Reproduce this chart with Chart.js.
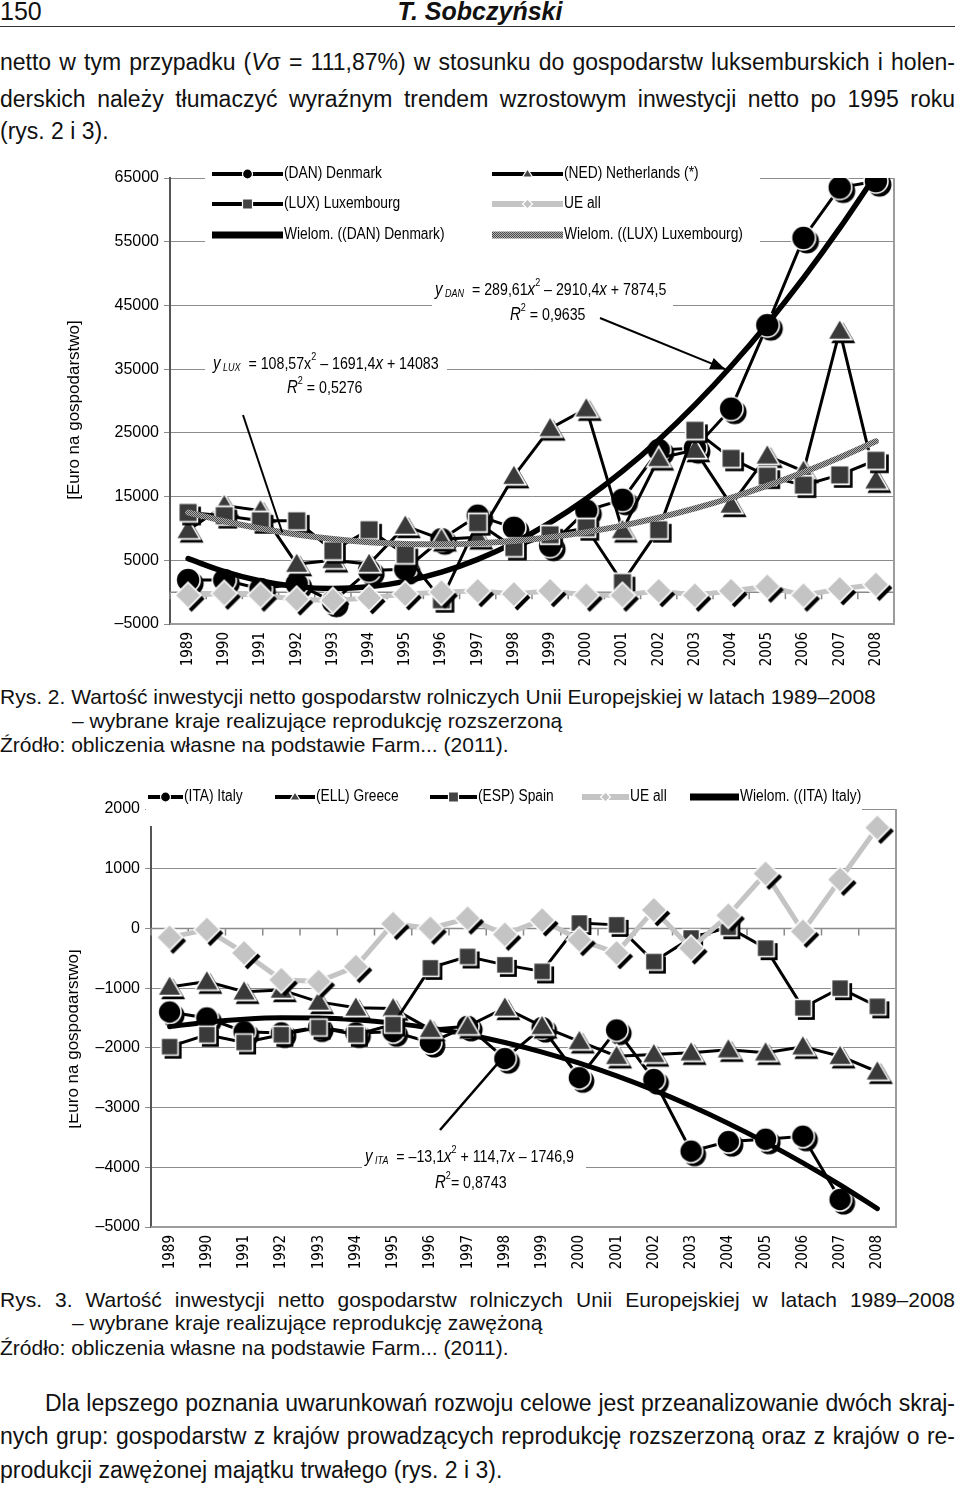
<!DOCTYPE html>
<html>
<head>
<meta charset="utf-8">
<title>Rys. 2 i Rys. 3</title>
<script src="https://cdn.jsdelivr.net/npm/chart.js"></script>
<style>
  body { margin: 0; width: 960px; height: 1485px; position: relative; overflow: hidden; background: #fff; color: #111;
         font-family: "Liberation Sans", Arial, sans-serif; }
  .t { position: absolute; left: 0; white-space: nowrap; }
  .j { width: 955px; text-align: justify; text-align-last: justify; white-space: normal; }
  .p { font-size: 23px; line-height: 30px; }
  .c { font-size: 21px; line-height: 24px; }
  .box { position: absolute; left: 0; }
</style>
</head>
<body>
<div class="t" style="top:-2px;font-size:25px;line-height:26px">150</div>
<div class="t" style="top:-2px;width:960px;text-align:center;font-size:25px;line-height:26px;font-weight:bold;font-style:italic">T. Sobczyński</div>
<div style="position:absolute;left:0;top:26px;width:955px;border-top:1.5px solid #333"></div>

<div class="t p j" style="top:47px">netto w tym przypadku (<i>V</i>σ = 111,87%) w stosunku do gospodarstw luksemburskich i holen-</div>
<div class="t p j" style="top:84px">derskich należy tłumaczyć wyraźnym trendem wzrostowym inwestycji netto po 1995 roku</div>
<div class="t p" style="top:116px">(rys. 2 i 3).</div>

<div class="box" style="top:160px"><canvas id="rys2" width="960" height="520"></canvas></div>

<div class="t c" style="top:685px">Rys. 2. Wartość inwestycji netto gospodarstw rolniczych Unii Europejskiej w latach 1989–2008</div>
<div class="t c" style="top:709px;left:72px">– wybrane kraje realizujące reprodukcję rozszerzoną</div>
<div class="t c" style="top:733px">Źródło: obliczenia własne na podstawie Farm... (2011).</div>

<div class="box" style="top:780px"><canvas id="rys3" width="960" height="500"></canvas></div>

<div class="t c j" style="top:1288px">Rys. 3. Wartość inwestycji netto gospodarstw rolniczych Unii Europejskiej w latach 1989–2008</div>
<div class="t c" style="top:1311px;left:72px">– wybrane kraje realizujące reprodukcję zawężoną</div>
<div class="t c" style="top:1336px">Źródło: obliczenia własne na podstawie Farm... (2011).</div>

<div class="t p j" style="top:1388px;left:45px;width:910px">Dla lepszego poznania uwarunkowań rozwoju celowe jest przeanalizowanie dwóch skraj-</div>
<div class="t p j" style="top:1421px">nych grup: gospodarstw z krajów prowadzących reprodukcję rozszerzoną oraz z krajów o re-</div>
<div class="t p" style="top:1455px">produkcji zawężonej majątku trwałego (rys. 2 i 3).</div>

<script>
var A = '"Liberation Sans", Arial, sans-serif';
var C = '"DejaVu Sans Condensed", "Liberation Sans", sans-serif';
var NARROW = 0.86;

var years = ['1989','1990','1991','1992','1993','1994','1995','1996','1997','1998',
             '1999','2000','2001','2002','2003','2004','2005','2006','2007','2008'];

// Rys. 2 - reprodukcja rozszerzona
var danValues = [1900, 1900, 500, 1300, -1500, 3400, 3600, 8300, 12000, 10100,
                 7300, 12800, 14500, 22300, 22600, 28800, 41900, 55600, 63500, 64500];
var nedValues = [9700, 13600, 12800, 4400, 5000, 4400, 10400, 8300, 8600, 18200,
                 25700, 28800, 9700, 21000, 22300, 13700, 21400, 19000, 41000, 17500];
var luxValues = [12500, 12000, 11200, 11200, 6500, 9800, 5900, -1200, 10900, 7000,
                 9000, 10100, 1500, 9800, 25400, 21000, 18200, 16800, 18400, 20700];
var ueAll2 = [-500, -200, -500, -1100, -1300, -900, -300, 0, 200, -300,
              200, -500, -500, 200, -500, 200, 900, -500, 500, 1200];
// y DAN = 289,61x^2 - 2910,4x + 7874,5
var danTrend = [5253.7, 3212.1, 1749.8, 866.7, 562.8, 838.1, 1692.6, 3126.3, 5139.3, 7731.5,
                10902.9, 14653.5, 18983.4, 23892.5, 29380.8, 35448.3, 42095, 49320.9, 57126.1, 65510.5];
// y LUX = 108,57x^2 - 1691,4x + 14083
var luxTrend = [12500.2, 11134.5, 9985.9, 9054.5, 8340.3, 7843.1, 7563.1, 7500.3, 7654.6, 8026,
                8614.6, 9420.3, 10443.1, 11683.1, 13140.3, 14814.5, 16705.9, 18814.5, 21139.6, 23681.2];
var yRange2 = [-5000, 65000, 10000];

// Rys. 3 - reprodukcja zawezona
var itaValues = [-1400, -1500, -1730, -1750, -1650, -1750, -1730, -1910, -1640, -2180,
                 -1660, -2500, -1700, -2530, -3730, -3570, -3530, -3480, -4540, null];
var ellValues = [-980, -890, -1060, -1030, -1230, -1330, -1340, -1690, -1640, -1330,
                 -1640, -1890, -2140, -2110, -2080, -2030, -2080, -1980, -2140, -2400];
var espValues = [-1980, -1780, -1910, -1780, -1660, -1780, -1610, -660, -470, -610,
                 -720, 90, 60, -555, -160, 20, -330, -1330, -1000, -1305];
var ueAll3 = [-150, -20, -410, -860, -890, -640, 80, 0, 170, -100,
              140, -190, -410, 310, -330, 220, 920, -50, 820, 1690];
// y ITA = -13,1x^2 + 114,7x - 1746,9
var itaTrend = [-1645.3, -1569.9, -1520.7, -1497.7, -1500.9, -1530.3, -1585.9, -1667.7, -1775.7, -1909.9,
                -2070.3, -2256.9, -2469.7, -2708.7, -2973.9, -3265.3, -3582.9, -3926.7, -4296.7, -4692.9];
var yRange3 = [-5000, 2000, 1000];

function marker(shape, fill, size) {
  var s = size + 10;
  var c = document.createElement('canvas');
  c.width = s; c.height = s;
  var g = c.getContext('2d');
  function path(o) {
    var cx = s / 2 + o, cy = s / 2 + o, r = size / 2;
    g.beginPath();
    if (shape === 'circle') g.arc(cx, cy, r, 0, Math.PI * 2);
    else if (shape === 'square') g.rect(cx - r * 0.85, cy - r * 0.85, r * 1.7, r * 1.7);
    else if (shape === 'triangle') { g.moveTo(cx, cy - r); g.lineTo(cx + r, cy + r * 0.72); g.lineTo(cx - r, cy + r * 0.72); g.closePath(); }
    else { g.moveTo(cx, cy - r); g.lineTo(cx + r, cy); g.lineTo(cx, cy + r); g.lineTo(cx - r, cy); g.closePath(); }
  }
  path(3.5); g.fillStyle = '#000'; g.fill();
  path(0); g.fillStyle = fill; g.fill();
  g.lineWidth = 1.6; g.strokeStyle = '#fff'; g.stroke();
  return c;
}

function hatch() {
  var c = document.createElement('canvas');
  c.width = 2; c.height = 2;
  var g = c.getContext('2d');
  g.fillStyle = '#b0b0b0'; g.fillRect(0, 0, 2, 2);
  g.fillStyle = '#4a4a4a'; g.fillRect(0, 0, 1, 1); g.fillRect(1, 1, 1, 1);
  return document.createElement('canvas').getContext('2d').createPattern(c, 'repeat');
}
var hatchPattern = hatch();

function series(label, data, shape, fill, size, order) {
  return { label: label, data: data, borderColor: '#000', borderWidth: 3, pointStyle: marker(shape, fill, size),
           pointRadius: size / 2, tension: 0, order: order, spanGaps: false };
}
function ueSeries(data, size, order) {
  return { label: 'UE all', data: data, borderColor: '#c4c4c4', borderWidth: 5,
           pointStyle: marker('diamond', '#c4c4c4', size), pointRadius: size / 2, order: order };
}
function trend(label, data, color, width, order) {
  return { label: label, data: data, borderColor: color, borderWidth: width, pointRadius: 0,
           cubicInterpolationMode: 'monotone', borderCapStyle: 'round', order: order };
}

// narrow text: Liberation Sans squeezed horizontally
function ntext(ctx, text, x, y, font) {
  ctx.font = font;
  ctx.save();
  ctx.translate(x, y); ctx.scale(NARROW, 1);
  ctx.fillText(text, 0, 0);
  ctx.restore();
  return ctx.measureText(text).width * NARROW;
}

function runs(ctx, x, y, parts) {
  parts.forEach(function (p) { x += ntext(ctx, p[0], x, y + (p[2] || 0), p[1]); });
}

function sample(ctx, it, y) {
  ctx.save();
  ctx.lineCap = 'butt';
  if (it.kind === 'trend') { ctx.strokeStyle = it.color; ctx.lineWidth = 7; }
  else if (it.kind === 'ue') { ctx.strokeStyle = '#c4c4c4'; ctx.lineWidth = 6; }
  else { ctx.strokeStyle = '#000'; ctx.lineWidth = 4; }
  ctx.beginPath(); ctx.moveTo(it.x1, y); ctx.lineTo(it.x2, y); ctx.stroke();
  var m = (it.x1 + it.x2) / 2;
  ctx.beginPath();
  if (it.shape === 'circle') { ctx.arc(m, y, 5, 0, Math.PI * 2); ctx.fillStyle = '#000'; }
  else if (it.shape === 'square') { ctx.rect(m - 5, y - 5, 10, 10); ctx.fillStyle = '#444'; }
  else if (it.shape === 'triangle') { ctx.moveTo(m, y - 5); ctx.lineTo(m + 5, y + 3); ctx.lineTo(m - 5, y + 3); ctx.closePath(); ctx.fillStyle = '#444'; }
  else if (it.shape === 'diamond') { ctx.moveTo(m, y - 5); ctx.lineTo(m + 5, y); ctx.lineTo(m, y + 5); ctx.lineTo(m - 5, y); ctx.closePath(); ctx.fillStyle = '#c4c4c4'; }
  if (it.shape) { ctx.fill(); ctx.lineWidth = 1.2; ctx.strokeStyle = '#fff'; ctx.stroke(); }
  ctx.fillStyle = '#000'; ctx.textBaseline = 'middle'; ctx.textAlign = 'left';
  ntext(ctx, it.text, it.x2 + 1, y, '16px ' + A);
  ctx.restore();
}

var decor = {
  id: 'decor',
  beforeDatasetsDraw: function (chart, args, o) {
    var ctx = chart.ctx, a = chart.chartArea, xs = chart.scales.x, ys = chart.scales.y;
    ctx.save();
    // x axis crossing at 0
    var y0 = ys.getPixelForValue(0);
    ctx.strokeStyle = '#8a8a8a'; ctx.lineWidth = 1.5;
    ctx.beginPath(); ctx.moveTo(a.left, y0); ctx.lineTo(a.right, y0);
    for (var i = 0; i <= years.length; i++) {
      var x = xs.getPixelForValue(i - 0.5);
      ctx.moveTo(x, y0); ctx.lineTo(x, y0 + 7);
    }
    ctx.stroke();
    // frame right + bottom
    ctx.strokeStyle = '#9c9c9c'; ctx.lineWidth = 2;
    ctx.beginPath(); ctx.moveTo(a.right, a.top); ctx.lineTo(a.right, a.bottom); ctx.lineTo(a.left, a.bottom); ctx.stroke();
    // legend
    ctx.fillStyle = '#fff';
    ctx.fillRect(o.box[0], o.box[1], o.box[2], o.box[3]);
    o.items.forEach(function (it) { sample(ctx, it, it.y); });
    // trend equations
    o.eqs.forEach(function (e) {
      ctx.fillStyle = '#fff'; ctx.fillRect(e.box[0], e.box[1], e.box[2], e.box[3]);
      ctx.fillStyle = '#000'; ctx.textBaseline = 'middle'; ctx.textAlign = 'left';
      runs(ctx, e.x1, e.y1, e.line1);
      runs(ctx, e.x2, e.y2, e.line2);
    });
    // y axis title
    ctx.save();
    ctx.beginPath(); ctx.rect(o.title.clip, 0, chart.width, chart.height); ctx.clip();
    ctx.translate(o.title.x, o.title.y); ctx.rotate(-Math.PI / 2);
    ctx.font = '17px ' + A; ctx.fillStyle = '#000'; ctx.textAlign = 'center'; ctx.textBaseline = 'middle';
    ctx.fillText('[Euro na gospodarstwo]', 0, 0);
    ctx.restore();
    ctx.restore();
  },
  afterDatasetsDraw: function (chart, args, o) {
    var ctx = chart.ctx, xs = chart.scales.x, ys = chart.scales.y;
    ctx.save();
    ctx.strokeStyle = '#000'; ctx.fillStyle = '#000';
    o.arrows.forEach(function (ar) {
      var ex = xs.getPixelForValue(ar.to[0]), ey = ys.getPixelForValue(ar.to[1]);
      ctx.lineWidth = ar.w;
      ctx.beginPath(); ctx.moveTo(ar.from[0], ar.from[1]); ctx.lineTo(ex, ey); ctx.stroke();
      if (ar.head) {
        var ang = Math.atan2(ey - ar.from[1], ex - ar.from[0]);
        ctx.beginPath();
        ctx.moveTo(ex, ey);
        ctx.lineTo(ex - 15 * Math.cos(ang) + 6 * Math.sin(ang), ey - 15 * Math.sin(ang) - 6 * Math.cos(ang));
        ctx.lineTo(ex - 15 * Math.cos(ang) - 6 * Math.sin(ang), ey - 15 * Math.sin(ang) + 6 * Math.cos(ang));
        ctx.closePath(); ctx.fill();
      }
    });
    ctx.restore();
  }
};

function tickLabel(v) { return String(v).replace('-', '–'); }

function makeChart(id, datasets, range, area, deco) {
  var canvas = document.getElementById(id);
  return new Chart(canvas.getContext('2d'), {
    type: 'line',
    data: { labels: years, datasets: datasets },
    options: {
      responsive: false, animation: false, devicePixelRatio: 1,
      layout: { padding: { left: 0, right: canvas.width - area.right, top: area.top, bottom: 0 } },
      plugins: { legend: { display: false }, tooltip: { enabled: false }, decor: deco },
      scales: {
        x: {
          offset: true,
          grid: { display: false, drawTicks: false },
          border: { display: false },
          ticks: { minRotation: 90, maxRotation: 90, autoSkip: false, padding: 8, color: '#000', font: { family: C, size: 15 } },
          afterFit: function (s) { s.height = canvas.height - area.bottom; }
        },
        y: {
          min: range[0], max: range[1],
          ticks: { stepSize: range[2], callback: tickLabel, color: '#000', padding: 5, font: { family: A, size: 16 } },
          grid: { color: '#8c8c8c', lineWidth: 1, tickLength: 6 },
          border: { color: '#555', width: 2 },
          afterFit: function (s) { s.width = area.left; }
        }
      }
    },
    plugins: [decor]
  });
}

var it = 'italic 17.5px ' + A, rg = '16.5px ' + A, sub = 'italic 10.5px ' + A, sup = '10.5px ' + A;

makeChart('rys2', [
  trend('Wielom. ((LUX) Luxembourg)', luxTrend, hatchPattern, 6, 1),
  ueSeries(ueAll2, 26, 2),
  series('(LUX) Luxembourg', luxValues, 'square', '#3a3a3a', 22, 3),
  series('(NED) Netherlands (*)', nedValues, 'triangle', '#3a3a3a', 24, 4),
  trend('Wielom. ((DAN) Denmark)', danTrend, '#000', 5.5, 5),
  series('(DAN) Denmark', danValues, 'circle', '#000', 24, 6)
], yRange2, { left: 170, right: 894, top: 13, bottom: 464 }, {
  box: [205, 0, 555, 92],
  items: [
    { x1: 212, x2: 283, y: 14, shape: 'circle', text: '(DAN) Denmark' },
    { x1: 212, x2: 283, y: 44, shape: 'square', text: '(LUX) Luxembourg' },
    { x1: 212, x2: 283, y: 75, kind: 'trend', color: '#000', text: 'Wielom. ((DAN) Denmark)' },
    { x1: 492, x2: 563, y: 14, shape: 'triangle', text: '(NED) Netherlands (*)' },
    { x1: 492, x2: 563, y: 44, kind: 'ue', shape: 'diamond', text: 'UE all' },
    { x1: 492, x2: 563, y: 75, kind: 'trend', color: hatchPattern, text: 'Wielom. ((LUX) Luxembourg)' }
  ],
  eqs: [
    { box: [432, 116, 241, 50], x1: 435, y1: 130, x2: 510, y2: 155,
      line1: [['y', it], [' DAN', sub, 4], ['  = 289,61', rg], ['x', it], ['2', sup, -7], [' – 2910,4', rg], ['x', it], [' + 7874,5', rg]],
      line2: [['R', it], ['2', sup, -7], [' = 0,9635', rg]] },
    { box: [205, 191, 242, 50], x1: 213, y1: 204, x2: 287, y2: 228,
      line1: [['y', it], [' LUX', sub, 4], ['  = 108,57', rg], ['x', rg], ['2', sup, -7], [' – 1691,4', rg], ['x', it], [' + 14083', rg]],
      line2: [['R', it], ['2', sup, -7], [' = 0,5276', rg]] }
  ],
  arrows: [
    { from: [600, 158], to: [14.84, 35000], w: 2, head: true },
    { from: [243, 255], to: [2.6, 9400], w: 2, head: false }
  ],
  title: { x: 74, y: 250, clip: 0 }
});

makeChart('rys3', [
  ueSeries(ueAll3, 26, 1),
  series('(ESP) Spain', espValues, 'square', '#3a3a3a', 20, 2),
  series('(ELL) Greece', ellValues, 'triangle', '#3a3a3a', 24, 3),
  trend('Wielom. ((ITA) Italy)', itaTrend, '#000', 5, 4),
  series('(ITA) Italy', itaValues, 'circle', '#000', 23, 5)
], yRange3, { left: 151, right: 896, top: 29, bottom: 447 }, {
  box: [146, 2, 716, 44],
  items: [
    { x1: 148, x2: 183, y: 17, shape: 'circle', text: '(ITA) Italy' },
    { x1: 275, x2: 315, y: 17, shape: 'triangle', text: '(ELL) Greece' },
    { x1: 430, x2: 477, y: 17, shape: 'square', text: '(ESP) Spain' },
    { x1: 582, x2: 629, y: 17, kind: 'ue', shape: 'diamond', text: 'UE all' },
    { x1: 690, x2: 739, y: 17, kind: 'trend', color: '#000', text: 'Wielom. ((ITA) Italy)' }
  ],
  eqs: [
    { box: [362, 363, 224, 45], x1: 365, y1: 377, x2: 435, y2: 403,
      line1: [['y', it], [' ITA', sub, 4], ['  = –13,1', rg], ['x', it], ['2', sup, -7], [' + 114,7', rg], ['x', it], [' – 1746,9', rg]],
      line2: [['R', it], ['2', sup, -7], ['= 0,8743', rg]] }
  ],
  arrows: [
    { from: [440, 350], to: [8.85, -2230], w: 2.5, head: false }
  ],
  title: { x: 73, y: 259, clip: 69 }
});
</script>
</body>
</html>
